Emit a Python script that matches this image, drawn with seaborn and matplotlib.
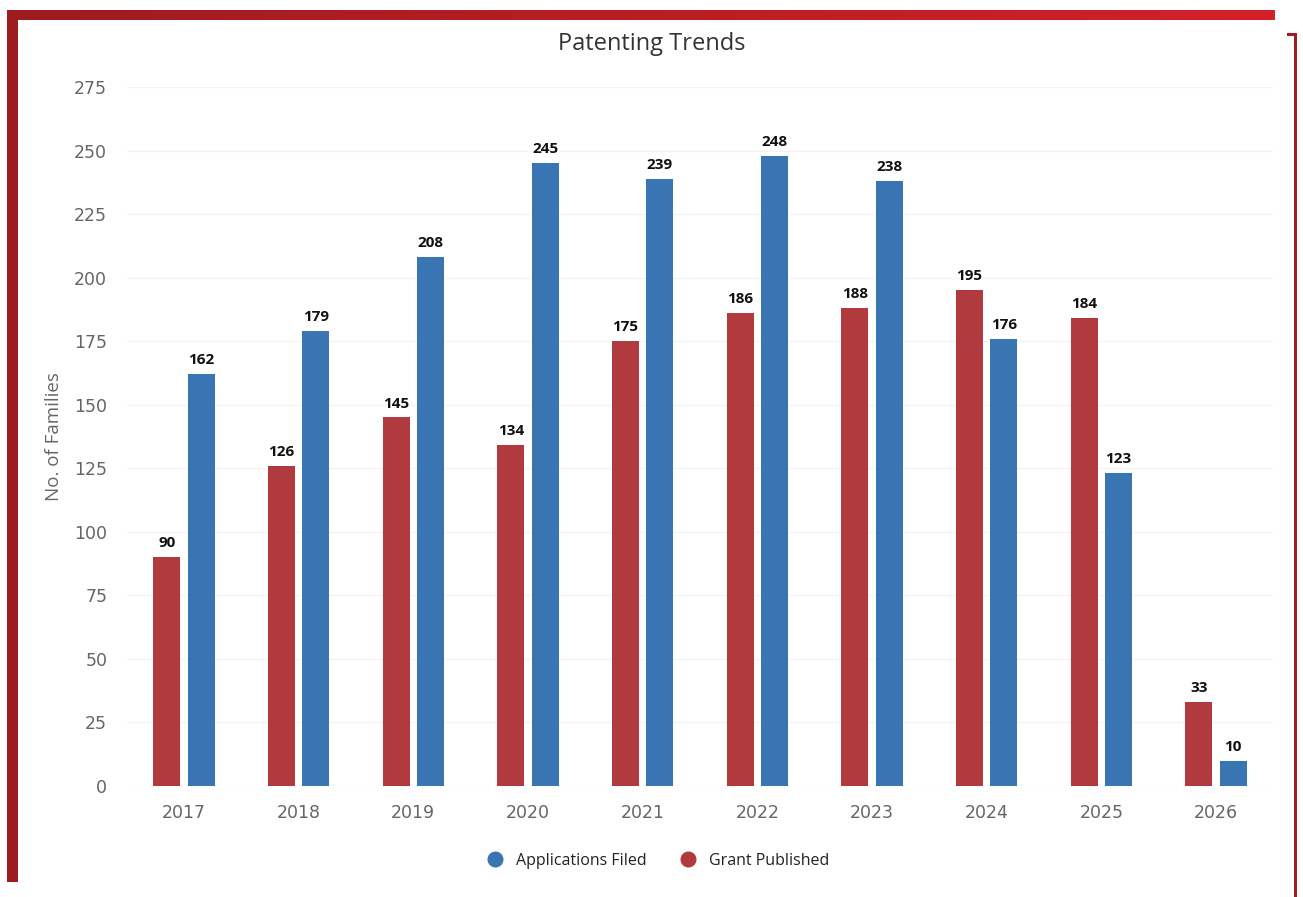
import matplotlib
matplotlib.use("Agg")
import matplotlib.pyplot as plt
import seaborn as sns
import pandas as pd
import numpy as np
from matplotlib.patches import Rectangle
from matplotlib.lines import Line2D
from matplotlib.colors import LinearSegmentedColormap

years = ["2017", "2018", "2019", "2020", "2021", "2022", "2023", "2024", "2025", "2026"]
applications_filed = [162, 179, 208, 245, 239, 248, 238, 176, 123, 10]
grant_published = [90, 126, 145, 134, 175, 186, 188, 195, 184, 33]
series_names = ["Grant Published", "Applications Filed"]
series_colors = {"Grant Published": "#b03a3e", "Applications Filed": "#3a75b3"}
y_ticks = list(range(0, 276, 25))

df = pd.DataFrame({
    "Year": years * 2,
    "Series": ["Grant Published"] * len(years) + ["Applications Filed"] * len(years),
    "Value": grant_published + applications_filed,
})

sns.set_theme(style="white")
plt.rcParams["font.family"] = ["Open Sans", "DejaVu Sans"]

W, H = 1303, 897
fig = plt.figure(figsize=(13.03, 8.97), dpi=100)
ax = fig.add_axes([0.0972, 0.1237, 0.880, 0.7793])

sns.barplot(data=df, x="Year", y="Value", hue="Series", hue_order=series_names,
            order=years, palette=series_colors, width=0.6, gap=0.22,
            saturation=1, ax=ax, legend=False, errorbar=None, linewidth=0)

for cont in ax.containers:
    ax.bar_label(cont, padding=5, fontsize=11, fontweight="bold", color="#111111")

ax.set_ylim(0, 275)
ax.set_xlim(-0.5, 9.5)
ax.set_yticks(y_ticks)
ax.tick_params(axis="both", length=0)
ax.tick_params(axis="y", pad=14)
ax.tick_params(axis="x", pad=13)
for lab in ax.get_xticklabels() + ax.get_yticklabels():
    lab.set_fontfamily(["DejaVu Sans"])
    lab.set_fontsize(12.5)
    lab.set_color("#6b6464")
ax.set_xlabel("")
ax.set_ylabel("No. of Families", fontsize=13.5, color="#6b6464", labelpad=8)
for s in ax.spines.values():
    s.set_visible(False)
ax.yaxis.grid(True, color="#f4f4f4", lw=1)
ax.set_axisbelow(True)
fig.text(652 / W, 1 - 44 / H, "Patenting Trends", ha="center", va="center",
         fontsize=17, color="#333333")

handles = [Line2D([0], [0], marker="o", linestyle="", markersize=10.5,
                  markerfacecolor=series_colors[n], markeredgecolor=series_colors[n], label=n)
           for n in ["Applications Filed", "Grant Published"]]
fig.legend(handles=handles, loc="center", bbox_to_anchor=(654 / W, 1 - 861 / H), ncol=2,
           frameon=False, fontsize=11.5, handletextpad=0.3, columnspacing=1.6,
           labelcolor="#222222")

def px_rect(x0, y0, x1, y1, color):
    fig.add_artist(Rectangle((x0 / W, 1 - y1 / H), (x1 - x0) / W, (y1 - y0) / H,
                             transform=fig.transFigure, facecolor=color,
                             edgecolor="none", zorder=10))

# top gradient bar
gax = fig.add_axes([7 / W, 1 - 20 / H, (1275 - 7) / W, 10 / H])
grad = np.linspace(0, 1, 256).reshape(1, -1)
cmap = LinearSegmentedColormap.from_list("rg", ["#9e1b20", "#d42029"])
gax.imshow(grad, aspect="auto", cmap=cmap)
gax.axis("off")

px_rect(7, 10, 18, 882, "#9e1b20")
px_rect(1294, 33, 1297, 897, "#a01c22")
px_rect(1287, 33, 1297, 36, "#a01c22")

fig.savefig("out.png", dpi=100)
